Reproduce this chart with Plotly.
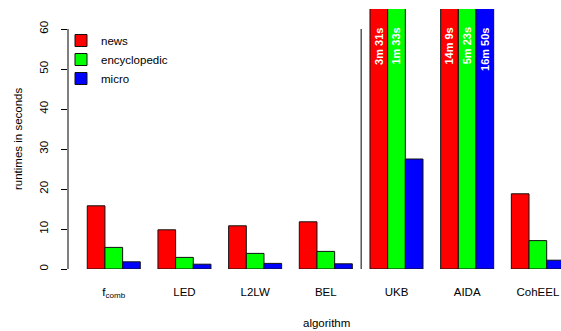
import plotly.graph_objects as go

algorithms = ["f<sub>comb</sub>", "LED", "L2LW", "BEL", "UKB", "AIDA", "CohEEL"]
series_names = ["news", "encyclopedic", "micro"]
series_colors = ["#ff0000", "#00ff00", "#0000ff"]
# runtimes in seconds
news = [15.8, 9.8, 10.8, 11.8, 211, 849, 18.8]
encyclopedic = [5.4, 2.9, 3.9, 4.4, 93, 323, 7.1]
micro = [1.8, 1.2, 1.4, 1.3, 27.5, 1010, 2.2]
series_values = [news, encyclopedic, micro]
y_ticks = [0, 10, 20, 30, 40, 50, 60]
y_max_shown = 65


def fmt_time(s):
    m, sec = divmod(int(round(s)), 60)
    return f"{m}m {sec}s"


W, H = 561, 331
plot_left, plot_right, plot_top, plot_bottom = 68, 561, 9, 269
L = plot_left
R = W - plot_right
T = plot_top
B = H - plot_bottom
plot_w = plot_right - plot_left
plot_h = plot_bottom - plot_top
px_per_unit = 17.67
u0 = 69.6  # pixel of x unit 0
x_range = [(plot_left - u0) / px_per_unit, (plot_right - u0) / px_per_unit]

fig = go.Figure()
annotations = []
for j, (name, col, vals) in enumerate(zip(series_names, series_colors, series_values)):
    xs = [1.5 + 4 * i + j for i in range(len(algorithms))]
    fig.add_trace(go.Bar(
        x=xs, y=vals, width=1, name=name,
        marker=dict(color=col, line=dict(color="#111111", width=1)),
    ))
    for x, v in zip(xs, vals):
        if v > y_max_shown:
            annotations.append(dict(
                x=x, y=60.6, xref="x", yref="y", text="<b>" + fmt_time(v) + "</b>",
                textangle=-90, showarrow=False, xanchor="center", yanchor="top",
                font=dict(color="white", size=11, family="Liberation Sans"),
                borderpad=0,
            ))

group_centers = [2.5 + 4 * i for i in range(len(algorithms))]

annotations.append(dict(
    x=(18 - plot_left) / plot_w, y=0.5, xref="paper", yref="paper",
    text="runtimes in seconds", textangle=-90, showarrow=False,
    xanchor="center", yanchor="middle",
    font=dict(size=11.5, color="black", family="Liberation Sans"),
))
annotations.append(dict(
    x=(326 - plot_left) / plot_w, y=-(323 - plot_bottom) / plot_h, xref="paper", yref="paper",
    text="algorithm", showarrow=False, xanchor="center", yanchor="middle",
    font=dict(size=11.5, color="black", family="Liberation Sans"),
))

shapes = [
    dict(type="line", xref="paper", yref="y", x0=0, x1=0, y0=0, y1=60,
         line=dict(color="black", width=1)),
    dict(type="line", xref="x", yref="y", x0=16.5, x1=16.5, y0=0, y1=60,
         line=dict(color="black", width=1)),
]

fig.update_layout(
    width=W, height=H,
    margin=dict(l=L, r=R, t=T, b=B, pad=0, autoexpand=False),
    paper_bgcolor="white", plot_bgcolor="white",
    barmode="overlay",
    font=dict(family="Liberation Sans", size=12, color="black"),
    showlegend=True,
    legend=dict(
        x=(61 - plot_left) / plot_w, y=1 - (26 - plot_top) / plot_h,
        xanchor="left", yanchor="top",
        bgcolor="rgba(0,0,0,0)", font=dict(size=11.5),
        tracegroupgap=0,
    ),
    annotations=annotations,
    shapes=shapes,
    xaxis=dict(
        range=x_range, tickvals=group_centers, ticktext=algorithms,
        showgrid=False, zeroline=False, showline=False, ticks="",
        ticklabelstandoff=14, tickfont=dict(size=11.5), automargin=False,
    ),
    yaxis=dict(
        range=[0, y_max_shown], tickvals=y_ticks, ticktext=[str(t) for t in y_ticks],
        showgrid=False, zeroline=False, showline=False,
        ticks="outside", ticklen=6, tickcolor="black", tickwidth=1,
        tickangle=-90, ticklabelstandoff=8, tickfont=dict(size=11.5), automargin=False,
    ),
)

fig.write_html(
    "out.html",
    config={"displayModeBar": False},
    post_script="document.body.style.margin='0';document.body.style.overflow='hidden';",
)
